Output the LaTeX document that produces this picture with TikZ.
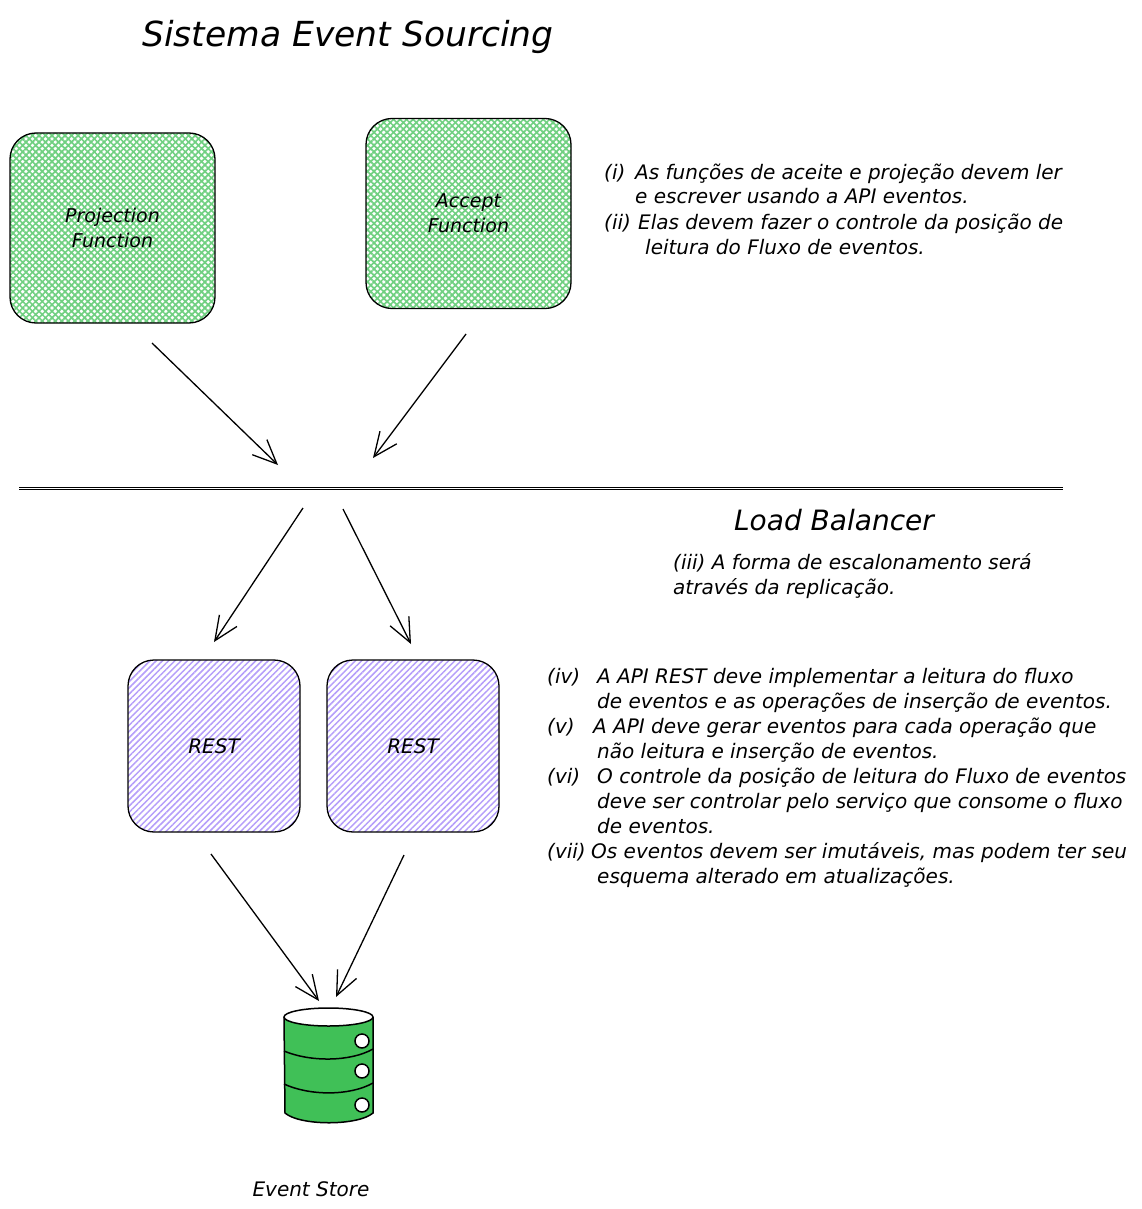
\documentclass[tikz,border=0pt]{standalone}
\usepackage{fontspec}
\setmainfont{DejaVu Sans}
\usepackage{xcolor}
\usepackage{tikz}
\usetikzlibrary{arrows.meta,patterns.meta}

\definecolor{hatchgreen}{HTML}{40C057}
\definecolor{hatchviolet}{HTML}{845EF7}

\tikzset{
    greenbox/.style={draw=black,line width=1.3pt,rounded corners=26pt,minimum width=205pt,minimum height=190pt,
        align=center,font=\fontsize{19}{25}\selectfont\itshape,
        preaction={pattern={Lines[angle=45,distance=4.6pt,line width=1.7pt]},pattern color=hatchgreen!75},
        pattern={Lines[angle=-45,distance=4.6pt,line width=1.7pt]},pattern color=hatchgreen!75},
    restbox/.style={draw=black,line width=1.3pt,rounded corners=26pt,minimum width=172pt,minimum height=172pt,
        font=\fontsize{20}{25}\selectfont\itshape,
        pattern={Lines[angle=45,distance=4.4pt,line width=1.5pt]},pattern color=hatchviolet!60},
    note/.style={anchor=base west,inner sep=0pt,font=\fontsize{20}{25}\selectfont\itshape},
    flow/.style={-{Straight Barb[length=24pt,width=21pt,line width=1.3pt]},line width=1.3pt},
}

\begin{document}
\begin{tikzpicture}[x=1pt,y=-1pt]
    \path[use as bounding box,fill=white] (0,0) rectangle (1141,1209);

    \node[inner sep=0pt,font=\fontsize{34.5}{40}\selectfont\itshape] (title) at (348,37) {Sistema Event Sourcing};

    % Functions
    \node[greenbox] (projection) at (112.5,228) {Projection\\Function};
    \node[greenbox] (accept) at (468.5,213.5) {Accept\\Function};

    % Notes (i), (ii)
    \node[note] (n1) at (604,179) {(i)};
    \node[note] (n1a) at (635,179) {As funções de aceite e projeção devem ler};
    \node[note] (n1b) at (635,204) {e escrever usando a API eventos.};
    \node[note] (n2) at (604,229) {(ii)};
    \node[note] (n2a) at (638,229) {Elas devem fazer o controle da posição de};
    \node[note] (n2b) at (645,254) {leitura do Fluxo de eventos.};

    % Load balancer
    \coordinate (lbwest) at (19,488);
    \coordinate (lbeast) at (1063,488);
    \draw[line width=1.2pt,double,double distance=0.6pt] (lbwest) -- (lbeast);
    \node[inner sep=0pt,font=\fontsize{28}{32}\selectfont\itshape] (balancer) at (834,520) {Load Balancer};
    \node[note] (n3a) at (673,569) {(iii) A forma de escalonamento será};
    \node[note] (n3b) at (673,594) {através da replicação.};

    % Flow arrows
    \coordinate (projout) at (152,343);
    \coordinate (projin) at (278,465);
    \coordinate (acceptout) at (466,334);
    \coordinate (acceptin) at (373,458);
    \coordinate (lbleft) at (303,508);
    \coordinate (restlin) at (214,642);
    \coordinate (lbright) at (343,509);
    \coordinate (restrin) at (411,644);
    \coordinate (restlout) at (211,854);
    \coordinate (storel) at (319,1001);
    \coordinate (restrout) at (404,855);
    \coordinate (storer) at (336,997);
    \draw[flow] (projout) -- (projin);
    \draw[flow] (acceptout) -- (acceptin);
    \draw[flow] (lbleft) -- (restlin);
    \draw[flow] (lbright) -- (restrin);
    \draw[flow] (restlout) -- (storel);
    \draw[flow] (restrout) -- (storer);

    % REST services
    \node[restbox] (restl) at (214,746) {REST};
    \node[restbox] (restr) at (413,746) {REST};

    % Notes (iv) to (vii)
    \node[note] (n4) at (547,683) {(iv)};
    \node[note] (n4a) at (597,683) {A API REST deve implementar a leitura do fluxo};
    \node[note] (n4b) at (597,708) {de eventos e as operações de inserção de eventos.};
    \node[note] (n5) at (547,733) {(v)};
    \node[note] (n5a) at (593,733) {A API deve gerar eventos para cada operação que};
    \node[note] (n5b) at (597,758) {não leitura e inserção de eventos.};
    \node[note] (n6) at (547,783) {(vi)};
    \node[note] (n6a) at (597,783) {O controle da posição de leitura do Fluxo de eventos};
    \node[note] (n6b) at (597,808) {deve ser controlar pelo serviço que consome o fluxo};
    \node[note] (n6c) at (597,833) {de eventos.};
    \node[note] (n7) at (547,858) {(vii)};
    \node[note] (n7a) at (591,858) {Os eventos devem ser imutáveis, mas podem ter seu};
    \node[note] (n7b) at (597,883) {esquema alterado em atualizações.};

    % Event store drum
    \draw[line width=1.5pt,fill=hatchgreen] (284,1017) -- (285,1113) .. controls (300,1126) and (358,1126) .. (373,1113) -- (373,1017);
    \draw[line width=1.5pt,fill=white] (328.5,1017) ellipse[x radius=44.5,y radius=9];
    \draw[line width=1.5pt] (284,1051) .. controls (310,1062) and (350,1062) .. (373,1049);
    \draw[line width=1.5pt] (284,1084) .. controls (310,1096) and (350,1096) .. (373,1083);
    \foreach \holey in {1041,1071,1105}
        \draw[line width=1.5pt,fill=white] (362,\holey) circle (7);
    \node[inner sep=0pt,font=\fontsize{20}{25}\selectfont\itshape] (store) at (311,1189) {Event Store};
\end{tikzpicture}
\end{document}
